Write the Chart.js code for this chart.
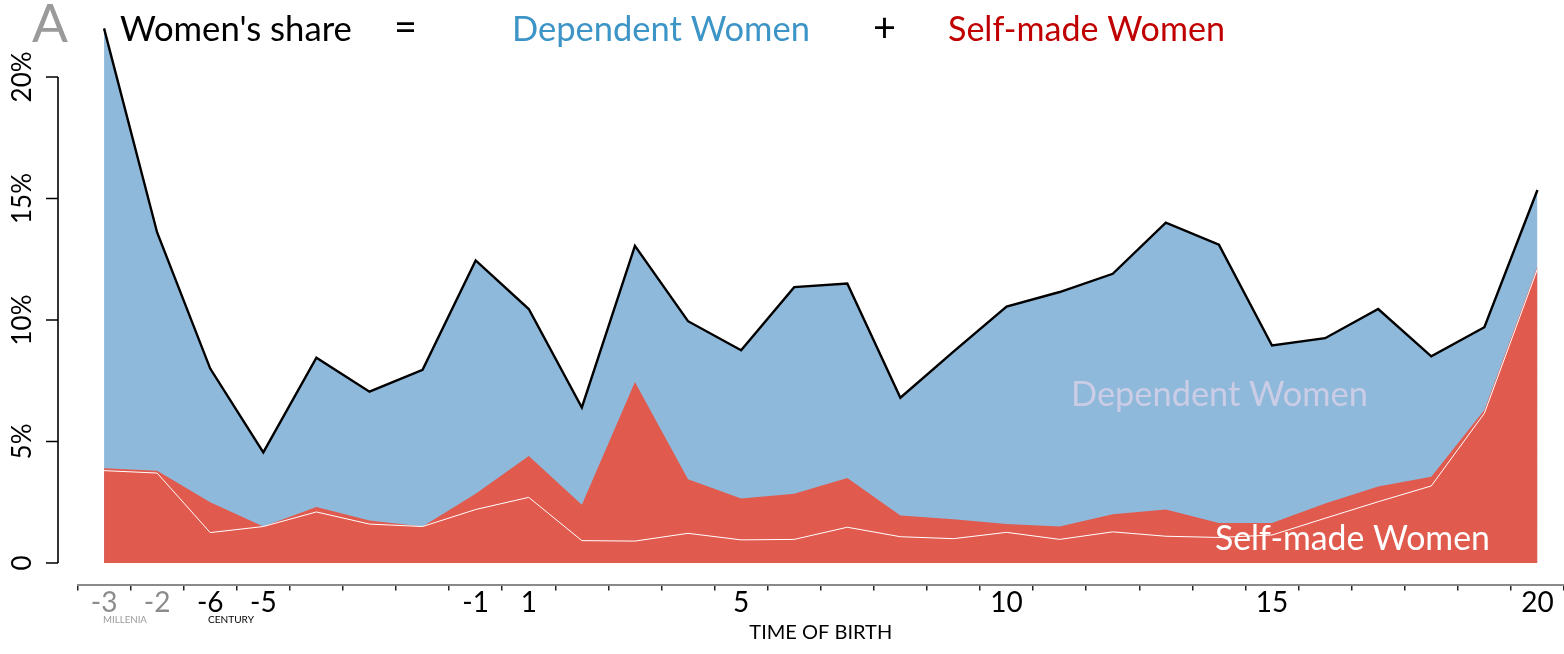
<!DOCTYPE html>
<html><head><meta charset="utf-8">
<script src="https://cdn.jsdelivr.net/npm/chart.js@4.4.1/dist/chart.umd.min.js"></script>
<style>html,body{margin:0;padding:0;background:#fff;overflow:hidden}#wrap{width:1564px;height:654px;position:relative}</style>
</head><body><div id="wrap"><canvas id="c" width="1564" height="654"></canvas></div>
<script>
// ---- data (percent) ----
const categories = ['-3 mill.','-2 mill.','-6','-5','-4','-3','-2','-1','1','2','3','4','5','6','7','8','9','10','11','12','13','14','15','16','17','18','19','20'];
const tickLabels = ['-3','-2','-6','-5','','','','-1','1','','','','5','','','','','10','','','','','15','','','','','20'];
const tickIsMillenia = [true,true,false,false,false,false,false,false,false,false,false,false,false,false,false,false,false,false,false,false,false,false,false,false,false,false,false,false];
const totalShare    = [22.0,13.6,8.0,4.55,8.45,7.05,7.95,12.45,10.45,6.4,13.05,9.95,8.75,11.35,11.5,6.8,8.7,10.55,11.15,11.9,14.0,13.1,8.95,9.25,10.45,8.5,9.7,15.35];
const selfMadeShare = [3.9,3.8,2.5,1.5,2.3,1.75,1.5,2.85,4.4,2.4,7.45,3.45,2.65,2.85,3.5,1.95,1.8,1.6,1.5,2.0,2.2,1.65,1.65,2.45,3.15,3.55,6.3,12.2];
const selfMadeInner = [3.8,3.7,1.25,1.5,2.1,1.6,1.5,2.2,2.7,0.92,0.9,1.22,0.95,0.97,1.47,1.08,1.0,1.26,0.97,1.28,1.1,1.05,1.15,1.84,2.52,3.17,6.16,12.1];
const yTicks = [0,5,10,15,20];
const yTickLabels = ['0','5%','10%','15%','20%'];

const FONT = 'Lato';
const mctx = document.createElement('canvas').getContext('2d');
function fitSize(text, target, weight) {
  mctx.font = (weight||'400') + ' 100px ' + FONT;
  return 100 * target / mctx.measureText(text).width;
}

const BLUE = '#8fb9da', RED = '#e05a4e';

const headerPlugin = {
  id: 'header',
  afterDraw(chart) {
    const ctx = chart.ctx;
    ctx.save();
    ctx.textBaseline = 'alphabetic';
    ctx.textAlign = 'left';
    const put = (t, x, y, w, color) => {
      ctx.font = '400 ' + fitSize(t, w) + 'px ' + FONT;
      ctx.fillStyle = color;
      ctx.fillText(t, x, y);
    };
    put('A', 32, 42, 36, '#9a9a9a');
    put("Women's share", 120, 41, 232, '#000');
    put('=', 394, 41, 23, '#000');
    put('Dependent Women', 512, 41, 298, '#3d95c7');
    put('+', 873, 42, 23, '#000');
    put('Self-made Women', 948, 41, 277, '#c00000');
    // in-chart labels
    put('Dependent Women', 1071, 406, 297, '#cbcde6');
    put('Self-made Women', 1215, 550, 275, '#ffffff');
    // axis sub-labels
    ctx.textBaseline = 'middle';
    put('MILLENIA', 103, 620, 44, '#9a9a9a');
    put('CENTURY', 208, 620, 46, '#000');
    // y axis line + ticks (R style, offset from plot)
    const ys = chart.scales.y;
    ctx.strokeStyle = '#000';
    ctx.lineWidth = 1.6;
    ctx.beginPath();
    ctx.moveTo(58, ys.getPixelForValue(yTicks[0]));
    ctx.lineTo(58, ys.getPixelForValue(yTicks[yTicks.length-1]));
    yTicks.forEach(v => { const p = ys.getPixelForValue(v); ctx.moveTo(46, p); ctx.lineTo(58, p); });
    ctx.stroke();
    ctx.restore();
  }
};

new Chart(document.getElementById('c'), {
  type: 'line',
  data: {
    labels: categories,
    datasets: [
      { label: "Women's share", data: totalShare, borderColor: '#000', borderWidth: 2.4,
        backgroundColor: BLUE, fill: 'origin', pointRadius: 0, tension: 0, order: 3 },
      { label: 'Self-made Women', data: selfMadeShare, borderColor: RED, borderWidth: 0,
        backgroundColor: RED, fill: 'origin', pointRadius: 0, tension: 0, order: 2 },
      { label: 'Self-made Women (inner)', data: selfMadeInner, borderColor: '#ffffff', borderWidth: 1,
        fill: false, pointRadius: 0, tension: 0, order: 1 }
    ]
  },
  options: {
    responsive: false, animation: false, devicePixelRatio: 1,
    layout: { padding: { top: 16.2, left: 0, right: 0, bottom: 0 } },
    plugins: { legend: { display: false }, tooltip: { enabled: false }, title: { display: false } },
    events: [],
    scales: {
      x: {
        type: 'category', offset: true,
        grid: { display: true, offset: true, drawOnChartArea: false, drawTicks: true, tickLength: 6, color: '#222', lineWidth: 1.5 },
        border: { display: true, color: '#8a8a8a', width: 2 },
        ticks: { autoSkip: false, maxRotation: 0, minRotation: 0, padding: -4,
          callback: (v, i) => tickLabels[i],
          color: c => tickIsMillenia[c.index] ? '#8c8c8c' : '#000',
          font: { family: FONT, size: 28 } },
        title: { display: true, text: 'TIME OF BIRTH', color: '#000',
          font: { family: FONT, size: fitSize('TIME OF BIRTH', 143) }, padding: { top: 0, bottom: 9 } },
        afterFit: s => { s.height = 69.4; s.paddingLeft = 0; s.paddingRight = 0; }
      },
      y: {
        min: -0.89, max: 22.5,
        afterBuildTicks: s => { s.ticks = yTicks.map(v => ({ value: v })); },
        afterFit: s => { s.width = 77.5; s.paddingTop = 0; s.paddingBottom = 0; },
        grid: { display: false, drawTicks: false },
        border: { display: false },
        ticks: { minRotation: 90, maxRotation: 90, crossAlign: 'center', padding: 29,
          callback: v => yTickLabels[yTicks.indexOf(v)],
          color: '#000', font: { family: FONT, size: 26 } }
      }
    }
  },
  plugins: [headerPlugin]
});
</script></body></html>
